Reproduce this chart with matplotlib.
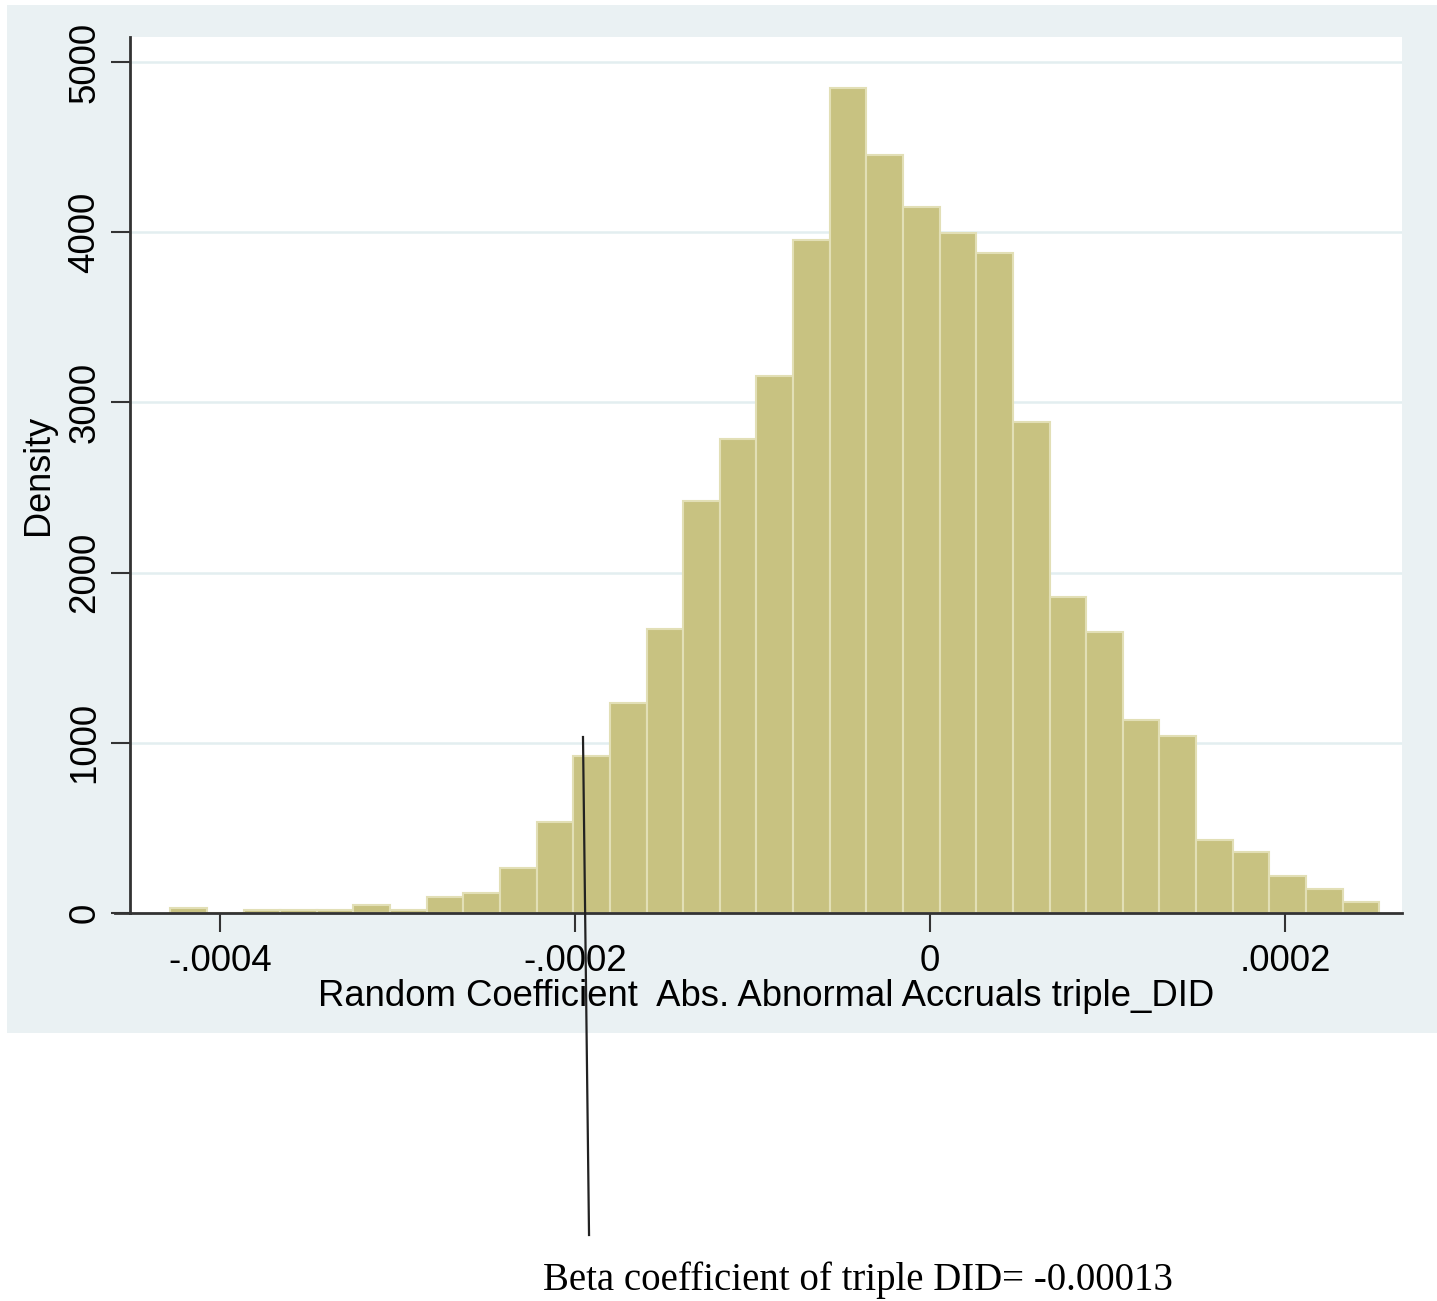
import matplotlib.pyplot as plt
import numpy as np

# Histogram bins (left edge of first bin, bin width) and density per bin
bin_start = -4.28e-4
bin_width = 2.064e-5
density = [30, 0, 20, 20, 20, 45, 20, 95, 120, 265, 535, 920, 1235, 1670,
           2420, 2785, 3155, 3955, 4847, 4453, 4148, 3995, 3878, 2885, 1857,
           1650, 1134, 1040, 429, 360, 217, 141, 65]

x_ticks = [-0.0004, -0.0002, 0, 0.0002]
x_ticklabels = ["-.0004", "-.0002", "0", ".0002"]
y_ticks = [0, 1000, 2000, 3000, 4000, 5000]

beta_note = "Beta coefficient of triple DID= -0.00013"
marker_x = (-1.955e-4, -1.921e-4)
marker_y = (1034, -1892)

bar_color = "#c8c281"
edge_color = "#e2dfb6"
panel_color = "#eaf1f3"
grid_color = "#e3eef0"

plt.rcParams["font.family"] = ["Liberation Sans", "DejaVu Sans"]

fig = plt.figure(figsize=(14.37, 13.01), dpi=100)
fig.patch.set_facecolor("white")

# Stata-like graph region (light panel)
panel = plt.Rectangle((7 / 1437, 1 - 1033 / 1301), 1 - 7 / 1437, (1033 - 5) / 1301,
                      transform=fig.transFigure, facecolor=panel_color,
                      edgecolor="none", zorder=0)
fig.add_artist(panel)

ax = fig.add_axes([130 / 1437, 1 - 913 / 1301, (1402 - 130) / 1437, (913 - 37) / 1301])
ax.set_facecolor("white")

edges = bin_start + bin_width * np.arange(len(density) + 1)
ax.bar(edges[:-1], density, width=bin_width, align="edge",
       color=bar_color, edgecolor=edge_color, linewidth=1.5, zorder=2)

ax.set_xlim(-4.507e-4, 2.659e-4)
ax.set_ylim(0, 5147)

ax.set_yticks(y_ticks)
ax.set_yticklabels([str(v) for v in y_ticks], rotation=90, va="center", fontsize=26.5)
ax.set_xticks(x_ticks)
ax.set_xticklabels(x_ticklabels, fontsize=26.5)
ax.tick_params(axis="both", direction="out", length=14, width=1.5, color="#333333", pad=6)
ax.tick_params(axis="x", pad=8)

for y in y_ticks[1:]:
    ax.axhline(y, color=grid_color, linewidth=1.8, zorder=1)

for side in ["top", "right"]:
    ax.spines[side].set_visible(False)
for side in ["left", "bottom"]:
    ax.spines[side].set_linewidth(2)
    ax.spines[side].set_color("#333333")
# bottom axis line runs a little past the y axis
ax.plot([-0.012, 0], [0, 0], transform=ax.transAxes, color="#333333",
        linewidth=2, clip_on=False, zorder=3)

ax.set_xlabel("Random Coefficient  Abs. Abnormal Accruals triple_DID",
              fontsize=26.3, labelpad=0)
ax.set_ylabel("Density", fontsize=26, labelpad=8)

# hand-drawn marker line pointing at the estimate
ax.plot(marker_x, marker_y, color="#222222", linewidth=1.6, clip_on=False, zorder=4)

fig.text(858 / 1437, 1 - 1280 / 1301, beta_note, ha="center", va="center",
         fontsize=28, family=["Liberation Serif", "DejaVu Serif"])

fig.savefig("out.png", dpi=100)
